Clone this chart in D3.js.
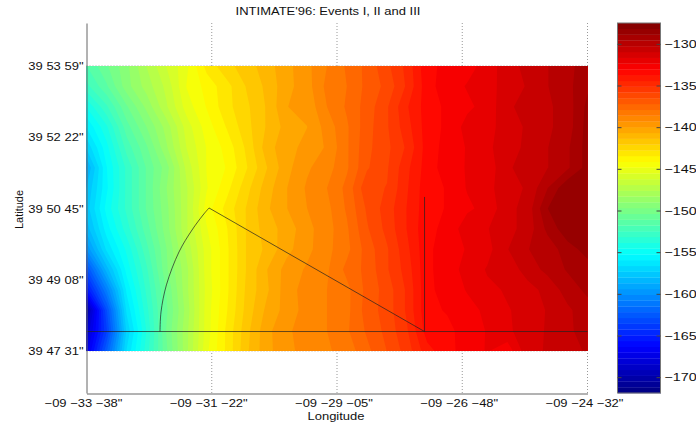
<!DOCTYPE html>
<html>
<head>
<meta charset="utf-8">
<title>INTIMATE'96</title>
<script src="https://d3js.org/d3.v7.min.js"></script>
<style>
    body { margin: 0; background: #fff; }
    svg { display: block; }
    text { font-family: "Liberation Sans", Arial, sans-serif; font-size: 11px; fill: #111; }
    .axis .domain { stroke: #666; }
    .axis .tick line { display: none; }
    .grid { stroke: #999; stroke-dasharray: 1 2; }
</style>
</head>
<body>
<div id="chart"></div>
<script>
// Tick positions are seconds of arc, labels as printed on the figure
const lonTicks = [-34418, -34281.5, -34145, -34008.5, -33872];
const lonLabels = ["\u221209 \u221233 \u221238\"", "\u221209 \u221231 \u221222\"", "\u221209 \u221229 \u221205\"", "\u221209 \u221226 \u221248\"", "\u221209 \u221224 \u221232\""];
const latTicks = [143251, 143348, 143445, 143542, 143639];
const latLabels = ["39 47 31\"", "39 49 08\"", "39 50 45\"", "39 52 22\"", "39 53 59\""];
const barTicks = [-130, -135, -140, -145, -150, -155, -160, -165, -170];

// Extent of the field and of the colour range
const lonExtent = [-34418, -33872];
const latExtent = [143639, 143251];
const lonAxisExtent = [-34418, -33872];
const latAxisExtent = [143193.8, 143697.5];
const levelExtent = [-171.9, -127.5];

// Received level, rows north to south, columns west to east
const row00 = [-151.8,-150.5,-149.2,-147.6,-146.2,-145,-143.2,-142.3,-141.7,-141,-140.2,-139.5,-138.6,-137.8,-137,-136,-134.9,-133.2,-132.9,-132.6,-132.1,-131.2,-130.8,-130.3,-129.8,-129.2];
const row01 = [-152.7,-151.2,-149.3,-148,-146.7,-144.8,-143.9,-143,-142,-141.2,-140.2,-139.6,-138.4,-137.9,-137,-136.3,-135,-133.3,-132.7,-132.3,-131.9,-131.4,-130.9,-130.3,-129.8,-129];
const row02 = [-154.5,-152.6,-150.5,-148.8,-147,-145.2,-144.1,-143,-142.2,-141.3,-140,-139.8,-138.6,-137.8,-136.9,-135.9,-134.5,-133.4,-132.9,-132.5,-132.1,-131.1,-130.7,-130.4,-129.95,-128.7];
const row03 = [-155.9,-154,-151.4,-149.7,-148,-145.9,-144.5,-143.4,-142.3,-141.3,-140.4,-140,-139,-138,-136.8,-135.9,-134.7,-133.4,-132.9,-132.1,-132,-131.2,-130.9,-130.4,-129.95,-128.6];
const row04 = [-157.2,-154.8,-152.2,-150.5,-148.4,-146.2,-144.8,-143.9,-142.6,-141,-140.2,-139.8,-139.2,-138,-136.7,-136,-135,-133.4,-132.8,-132.3,-131.8,-131.3,-130.8,-130.3,-129.7,-128.6];
const row05 = [-158.8,-155.3,-153,-151,-149.3,-146.7,-144.8,-144.1,-142.8,-141.4,-140.2,-139.4,-138.9,-138,-136.6,-135.9,-134.6,-133.4,-132.7,-132.3,-132,-131.2,-130.3,-130.3,-129.7,-128.6];
const row06 = [-158,-155.4,-153,-151,-149,-147,-144.9,-143.7,-142.3,-141,-140,-139.2,-138.6,-137.7,-136,-135.8,-134.5,-133.3,-133,-132.3,-131.9,-131.2,-130.9,-129.6,-128.3,-128.2];
const row07 = [-157.7,-155,-153,-151,-149.2,-147,-144.5,-143.2,-142,-140.8,-140,-139.3,-138.8,-137.8,-136.4,-135.5,-134.4,-133.3,-133,-132.5,-132.1,-131.2,-130.7,-128.9,-128.2,-128.2];
const row08 = [-158.4,-155.6,-153.5,-151.4,-149.3,-147,-144.9,-143.5,-142,-141,-140.4,-139.5,-138.9,-138,-136.6,-135.6,-134.4,-133.2,-132.9,-131.9,-131.7,-131.2,-130.7,-129.4,-128.4,-128.2];
const row09 = [-160,-156.5,-154.4,-152,-149.7,-147.4,-145.2,-143.6,-142,-141.2,-140.2,-139.5,-138.8,-138.1,-136.9,-135.9,-134.6,-133.2,-132.7,-132.3,-131.9,-131,-130.3,-130,-129.2,-128.6];
const row10 = [-163,-158.4,-155,-152.6,-149.8,-147.8,-145.2,-143.6,-142,-140.7,-139.7,-139.2,-138.7,-137.7,-137,-135.9,-134.8,-133.2,-132.7,-132.1,-131.6,-131.5,-130.6,-130.1,-129.5,-129.2];
const row11 = [-165.6,-160.8,-155.8,-153,-150.3,-147.8,-145.3,-143.6,-141.9,-140.8,-139.6,-139,-138.6,-138.1,-137,-136.2,-135,-133.2,-132.8,-132.3,-131.8,-131.6,-131.3,-130.7,-130,-129.4];
const row12 = [-170,-163,-156.5,-153.4,-150.5,-148,-145.2,-143.5,-141.8,-140.5,-139.7,-139,-138.6,-138.1,-136.9,-136.2,-135,-133.2,-133,-132.6,-132.2,-131.7,-131.5,-130.9,-130.4,-129.9];
const row13 = [-168.5,-163.7,-157.2,-153.8,-150.3,-147.8,-145.2,-143.3,-141.6,-140.2,-139.4,-139,-138.6,-138,-137.1,-136.3,-135.2,-133.4,-133.2,-132.8,-132.3,-131.8,-131.3,-130.9,-130.4,-130];
const row14 = [-167.5,-162.3,-156.6,-153.5,-150.5,-147.8,-145,-143.3,-141.5,-140.2,-139.5,-139,-138.7,-138.3,-137.4,-136.5,-135.5,-134,-133.3,-132.7,-132.3,-132.8,-131.2,-130.9,-130.5,-130.2];
const levelRows = [row00, row01, row02, row03, row04, row05, row06, row07, row08, row09, row10, row11, row12, row13, row14];

// Event geometry as lon, lat in seconds of arc
const baseLine = [[-34418, 143277.5], [-33872, 143277.5]];
const towLine = [[-34049.6, 143460.7], [-34049.6, 143277.5]];
const slantLine = [[-34284.5, 143445.7], [-34049.6, 143277.5]];
const arcLine = [[-34337.9, 143277.5], [-34336.8, 143304.1], [-34330.9, 143340.9], [-34317.2, 143385.8], [-34303, 143415.7], [-34291, 143436.1], [-34284.5, 143445.7]];

const nLevels = 64;

// Matlab jet colour map
function jet(t) {
    const c = v => Math.round(255 * Math.max(0, Math.min(1, v)));
    return d3.rgb(c(1.5 - Math.abs(4 * t - 3)), c(1.5 - Math.abs(4 * t - 2)), c(1.5 - Math.abs(4 * t - 1))).formatHex();
}

// The original print has wide glyphs, stretch the text to suit
function stretchText(selection, k) {
    selection.each(function() {
        d3.select(this)
            .attr("textLength", this.getComputedTextLength() * k)
            .attr("lengthAdjust", "spacingAndGlyphs");
    });
}

const svg = d3.select("#chart").append("svg")
    .attr("width", 696)
    .attr("height", 423);

// Scales
const x = d3.scaleLinear().domain(lonAxisExtent).range([86.5, 587.5]);
const y = d3.scaleLinear().domain(latAxisExtent).range([393, 23]);
const yBar = d3.scaleLinear().domain(levelExtent).range([393, 23]);

// Grid lines sit under the field
const grid = svg.append("g");
grid.selectAll(".grid-x")
    .data(lonTicks.slice(1))
    .join("line")
    .attr("class", "grid")
    .attr("x1", d => x(d)).attr("x2", d => x(d))
    .attr("y1", 23).attr("y2", 393);
grid.selectAll(".grid-y")
    .data(latTicks)
    .join("line")
    .attr("class", "grid")
    .attr("x1", 86.5).attr("x2", 587.5)
    .attr("y1", d => y(d)).attr("y2", d => y(d));

// Filled field: contour bands on the 64 colours of the map
const nRows = levelRows.length;
const nCols = levelRows[0].length;
const colToLon = d3.scaleLinear().domain([0.5, nCols - 0.5]).range(lonExtent);
const rowToLat = d3.scaleLinear().domain([0.5, nRows - 0.5]).range(latExtent);
const path = d3.geoPath(d3.geoTransform({
    point(px, py) { this.stream.point(x(colToLon(px)), y(rowToLat(py))); }
}));

const levelStep = (levelExtent[1] - levelExtent[0]) / nLevels;
const thresholds = d3.range(nLevels).map(k => levelExtent[0] + k * levelStep);
const bands = d3.contours()
    .size([nCols, nRows])
    .smooth(true)
    .thresholds(thresholds)(levelRows.flat());

svg.append("clipPath").attr("id", "field-clip").append("rect")
    .attr("x", x(lonExtent[0])).attr("y", y(latExtent[0]))
    .attr("width", x(lonExtent[1]) - x(lonExtent[0]))
    .attr("height", y(latExtent[1]) - y(latExtent[0]));

const field = svg.append("g").attr("clip-path", "url(#field-clip)");
field.append("rect")
    .attr("x", x(lonExtent[0])).attr("y", y(latExtent[0]))
    .attr("width", x(lonExtent[1]) - x(lonExtent[0]))
    .attr("height", y(latExtent[1]) - y(latExtent[0]))
    .attr("fill", jet(0.5 / nLevels));
field.selectAll("path")
    .data(bands)
    .join("path")
    .attr("d", path)
    .attr("fill", (d, i) => jet((i + 0.5) / nLevels));

// Event lines
const line = d3.line().x(d => x(d[0])).y(d => y(d[1]));
svg.selectAll(".event")
    .data([baseLine, towLine, slantLine])
    .join("path")
    .attr("class", "event")
    .attr("d", line)
    .attr("fill", "none")
    .attr("stroke", "#222")
    .attr("stroke-width", 0.7);
svg.append("path")
    .attr("d", line.curve(d3.curveCatmullRom)(arcLine))
    .attr("fill", "none")
    .attr("stroke", "#222")
    .attr("stroke-width", 0.7);

// Axes, left and bottom only
svg.append("g")
    .attr("class", "axis")
    .attr("transform", "translate(0,393.5)")
    .call(d3.axisBottom(x).tickValues(lonTicks).tickSize(0).tickPadding(6).tickFormat((d, i) => lonLabels[i]))
    .call(g => g.selectAll("text").attr("dy", "0.71em").attr("dx", -3.5).call(stretchText, 1.18));
svg.append("g")
    .attr("class", "axis")
    .attr("transform", "translate(86.5,0)")
    .call(d3.axisLeft(y).tickValues(latTicks).tickSize(0).tickPadding(3).tickFormat((d, i) => latLabels[i]))
    .call(g => g.selectAll("text").call(stretchText, 1.18));

// Colour bar
svg.selectAll(".bar-cell")
    .data(d3.range(nLevels))
    .join("rect")
    .attr("class", "bar-cell")
    .attr("x", 618)
    .attr("width", 43)
    .attr("y", k => yBar(levelExtent[0] + (k + 1) * levelStep))
    .attr("height", (393 - 23) / nLevels + 0.3)
    .attr("fill", k => jet((k + 0.5) / nLevels));
svg.append("rect")
    .attr("x", 617.5).attr("y", 23)
    .attr("width", 43).attr("height", 370)
    .attr("fill", "none").attr("stroke", "#777");
const barAxis = svg.append("g")
    .attr("transform", "translate(660.5,0)")
    .call(d3.axisRight(yBar).tickValues(barTicks).tickSize(0).tickPadding(4).tickFormat(d => "\u2212" + Math.abs(d)))
    .call(g => g.select(".domain").remove())
    .call(g => g.selectAll("text").call(stretchText, 1.3));
barAxis.selectAll(".tick").append("line").attr("x1", -43).attr("x2", -39).attr("stroke", "#444");
barAxis.selectAll(".tick").append("line").attr("x1", -4).attr("x2", 0).attr("stroke", "#444");

// Title and axis labels
svg.append("text")
    .attr("x", 328).attr("y", 15)
    .attr("text-anchor", "middle")
    .text("INTIMATE'96: Events I, II and III")
    .call(stretchText, 1.18);
svg.append("text")
    .attr("x", 336).attr("y", 420)
    .attr("text-anchor", "middle")
    .text("Longitude")
    .call(stretchText, 1.18);
svg.append("text")
    .attr("transform", "translate(23,209.5) rotate(-90)")
    .attr("text-anchor", "middle")
    .text("Latitude");
</script>
</body>
</html>
